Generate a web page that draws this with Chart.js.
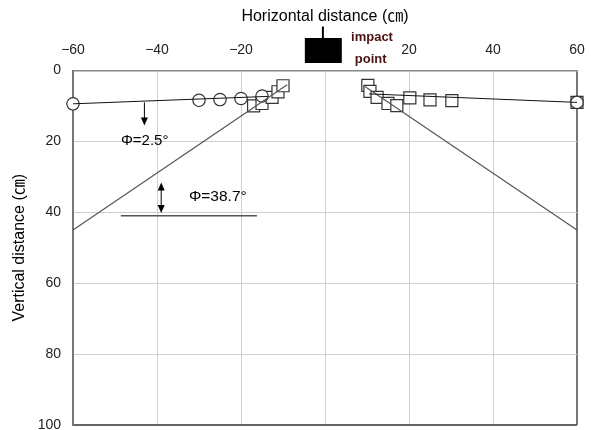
<!DOCTYPE html>
<html>
<head>
<meta charset="utf-8">
<script src="https://cdn.jsdelivr.net/npm/chart.js@4"></script>
<style>
  body { margin: 0; background: #fff; }
  #wrap { width: 591px; height: 430px; }
</style>
</head>
<body>
<div id="wrap"><canvas id="c"></canvas></div>
<script>
// measured points (cm)
const circleX = [-60, -30, -25, -20, -15, 60];
const circleY = [9.4, 8.4, 8.2, 7.9, 7.2, 9.0];
const squareX = [-17, -15, -12.6, -11.2, -10, 10.2, 10.7, 12.4, 15, 17.1, 20.2, 25, 30.2, 60];
const squareY = [10, 9.3, 7.6, 6, 4.3, 4.2, 5.9, 7.6, 9.3, 9.9, 7.7, 8.3, 8.5, 9.0];

// fitted lines
const trendLeftX = [-60, -13.5];
const trendLeftY = [9.4, 7.3];
const trendRightX = [10.5, 60];
const trendRightY = [6.6, 9.0];
const slopeLeftX = [-60, -9];
const slopeLeftY = [45, 4];
const slopeRightX = [9.5, 60];
const slopeRightY = [4.5, 45];

const xTicks = [-60, -40, -20, 0, 20, 40, 60];
const yTicks = [0, 20, 40, 60, 80, 100];
const angleLabels = ['Φ=2.5°', 'Φ=38.7°'];

const FONT = '"Liberation Sans", "Noto Sans CJK KR", sans-serif';

function pts(xs, ys) {
    return xs.map((x, i) => ({ x: x, y: ys[i] }));
}

function lineSet(xs, ys, color, width) {
    return {
        data: pts(xs, ys),
        showLine: true,
        borderColor: color,
        borderWidth: width,
        pointRadius: 0,
        clip: false
    };
}

// arrow helper
function arrowHead(ctx, x, y, dir) {
    ctx.beginPath();
    ctx.moveTo(x, y);
    ctx.lineTo(x - 3.5, y - dir * 8);
    ctx.lineTo(x + 3.5, y - dir * 8);
    ctx.closePath();
    ctx.fill();
}

const annotations = {
    id: 'annotations',
    afterDraw(chart) {
        const ctx = chart.ctx;
        const xs = chart.scales.x, ys = chart.scales.y;
        const top = chart.chartArea.top;
        ctx.save();
        ctx.fillStyle = '#000';
        ctx.strokeStyle = '#000';

        // 2.5 deg arrow
        let ax = xs.getPixelForValue(-43);
        ctx.lineWidth = 1;
        ctx.beginPath();
        ctx.moveTo(ax, ys.getPixelForValue(9));
        ctx.lineTo(ax, ys.getPixelForValue(14));
        ctx.stroke();
        arrowHead(ctx, ax, ys.getPixelForValue(15.5), 1);

        ctx.font = '15px ' + FONT;
        ctx.textBaseline = 'middle';
        ctx.fillText(angleLabels[0], xs.getPixelForValue(-48.6), ys.getPixelForValue(19.9));

        // 38.7 deg double arrow
        ax = xs.getPixelForValue(-39);
        ctx.beginPath();
        ctx.moveTo(ax, ys.getPixelForValue(33.5));
        ctx.lineTo(ax, ys.getPixelForValue(38.5));
        ctx.stroke();
        arrowHead(ctx, ax, ys.getPixelForValue(31.6), -1);
        arrowHead(ctx, ax, ys.getPixelForValue(40.2), 1);
        ctx.font = '15.5px ' + FONT;
        ctx.fillText(angleLabels[1], xs.getPixelForValue(-32.4), ys.getPixelForValue(35.7));

        // base line
        ctx.strokeStyle = '#555';
        ctx.lineWidth = 1.5;
        ctx.beginPath();
        ctx.moveTo(xs.getPixelForValue(-48.6), ys.getPixelForValue(41));
        ctx.lineTo(xs.getPixelForValue(-16.2), ys.getPixelForValue(41));
        ctx.stroke();

        // impact point marker
        const bx0 = xs.getPixelForValue(-4.8), bx1 = xs.getPixelForValue(4);
        ctx.fillStyle = '#000';
        ctx.fillRect(bx0, top - 32.5, bx1 - bx0, 25);
        ctx.strokeStyle = '#000';
        ctx.lineWidth = 2;
        const lx = xs.getPixelForValue(-0.5);
        ctx.beginPath();
        ctx.moveTo(lx, top - 44);
        ctx.lineTo(lx, top - 32);
        ctx.stroke();

        ctx.fillStyle = '#4a1212';
        ctx.font = 'bold 13px ' + FONT;
        ctx.fillText('impact', xs.getPixelForValue(6.2), top - 33.5);
        ctx.fillText('point', xs.getPixelForValue(7.1), top - 11.5);
        ctx.restore();
    }
};

const chart = new Chart(document.getElementById('c'), {
    type: 'scatter',
    data: {
        datasets: [
            lineSet(trendLeftX, trendLeftY, '#111', 1),
            lineSet(trendRightX, trendRightY, '#111', 1),
            lineSet(slopeLeftX, slopeLeftY, '#555', 1.2),
            lineSet(slopeRightX, slopeRightY, '#555', 1.2),
            {
                data: pts(circleX, circleY),
                pointStyle: 'circle',
                pointRadius: 6.2,
                borderColor: '#333',
                borderWidth: 1.2,
                backgroundColor: '#fff',
                clip: false
            },
            {
                data: pts(squareX, squareY),
                pointStyle: 'rect',
                pointRadius: 8.5,
                borderColor: '#333',
                borderWidth: 1.2,
                backgroundColor: '#fff',
                clip: false
            }
        ]
    },
    options: {
        responsive: true,
        maintainAspectRatio: false,
        animation: false,
        layout: {
            autoPadding: false,
            padding: { left: 0, right: 14, top: 0, bottom: 5 }
        },
        plugins: {
            legend: { display: false },
            tooltip: { enabled: false }
        },
        scales: {
            x: {
                type: 'linear',
                position: 'top',
                min: -60,
                max: 60,
                afterBuildTicks: s => { s.ticks = xTicks.map(v => ({ value: v })); },
                afterFit: s => {
                    s.height = 70.5;
                    s.paddingLeft = 0;
                    s.paddingRight = 0;
                },
                ticks: {
                    padding: 12,
                    color: '#222',
                    font: { family: FONT, size: 14 },
                    callback: v => String(v).replace('-', '−')
                },
                grid: {
                    drawTicks: false,
                    color: ctx => ctx.tick && ctx.tick.value === 60 ? '#777' : '#cfcfcf',
                    lineWidth: ctx => ctx.tick && ctx.tick.value === 60 ? 2 : 1
                },
                border: { color: '#888', width: 1.5 },
                title: {
                    display: true,
                    text: 'Horizontal distance (㎝)',
                    color: '#000',
                    font: { family: FONT, size: 16 },
                    padding: { top: 7, bottom: 0 }
                }
            },
            y: {
                reverse: true,
                min: 0,
                max: 100,
                afterBuildTicks: s => { s.ticks = yTicks.map(v => ({ value: v })); },
                afterFit: s => {
                    s.width = 73;
                    s.paddingTop = 0;
                    s.paddingBottom = 0;
                },
                ticks: {
                    padding: 12,
                    color: '#222',
                    font: { family: FONT, size: 14 }
                },
                grid: {
                    drawTicks: false,
                    color: ctx => ctx.tick && ctx.tick.value === 100 ? '#666' : '#cfcfcf',
                    lineWidth: ctx => ctx.tick && ctx.tick.value === 100 ? 2 : 1
                },
                border: { color: '#777', width: 2 },
                title: {
                    display: true,
                    text: 'Vertical distance (㎝)',
                    color: '#000',
                    font: { family: FONT, size: 16 },
                    padding: { top: 10, bottom: 0 }
                }
            }
        }
    },
    plugins: [annotations]
});
</script>
</body>
</html>
